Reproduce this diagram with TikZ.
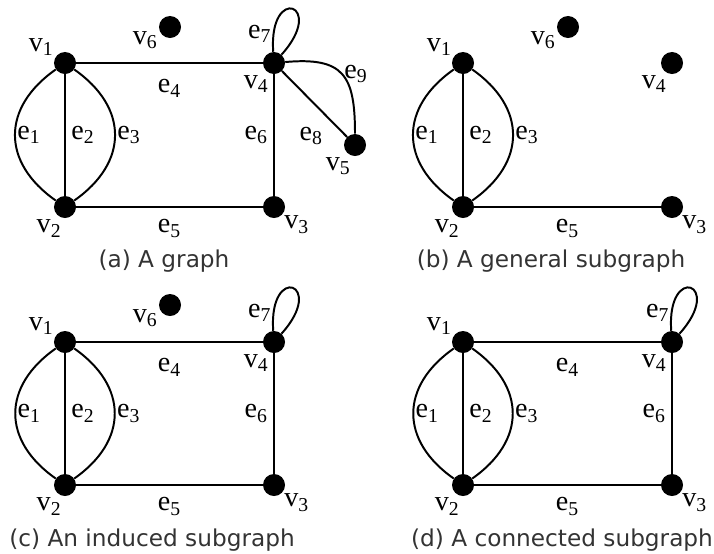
\documentclass[tikz,border=0pt]{standalone}
\usepackage{fontspec}
\setmainfont{Liberation Serif}
\newfontfamily\capfont{DejaVu Sans}
\usepackage{tikz}
\usetikzlibrary{positioning}

\begin{document}
\begin{tikzpicture}[
  x=0.025cm,y=-0.025cm,
  vtx/.style={circle,fill=black,minimum size=0.55cm,inner sep=0pt},
  lbl/.style={font=\fontsize{20}{20}\selectfont,inner sep=1pt},
  capt/.style={font=\capfont\fontsize{16.5}{18}\selectfont,text=black!80},
  edg/.style={line width=1.4pt},
  every label/.style={lbl},
]
\useasboundingbox (0,0) rectangle (714,553);

% (a) A graph
\node[vtx,label={150:v\textsubscript{1}}] (a1) at (65,63) {};
\node[vtx,label={260:v\textsubscript{2}}] (a2) at (65,207) {};
\node[vtx,label={320:v\textsubscript{3}}] (a3) at (274,207) {};
\node[vtx,label={250:v\textsubscript{4}}] (a4) at (274,63) {};
\node[vtx,label={255:v\textsubscript{5}}] (a5) at (355,145) {};
\node[vtx,label={195:v\textsubscript{6}}] (a6) at (170,27) {};
\draw[edg] (a1) to[out=215,in=145,looseness=1.3] node[lbl,right] {e\textsubscript{1}} (a2);
\draw[edg] (a1) -- node[lbl,right=1mm] {e\textsubscript{2}} (a2);
\draw[edg] (a1) to[out=-35,in=35,looseness=1.3] node[lbl,right] {e\textsubscript{3}} (a2);
\draw[edg] (a1) -- node[lbl,below=3.5mm] {e\textsubscript{4}} (a4);
\draw[edg] (a2) -- node[lbl,below=2.5mm] {e\textsubscript{5}} (a3);
\draw[edg] (a4) -- node[lbl,left=1mm] {e\textsubscript{6}} (a3);
\draw[edg] (a4) to[out=94,in=48,distance=1.7cm] node[lbl,pos=0.1,left] {e\textsubscript{7}} (a4);
\draw[edg] (a4) -- node[lbl,pos=0.45,below=6mm] {e\textsubscript{8}} (a5);
\draw[edg] (a4) to[out=5,in=90,looseness=1.5] node[lbl,pos=0.5,right] {e\textsubscript{9}} (a5);
\node[capt] (capa) at (164,261) {(a) A graph};

% (b) A general subgraph
\node[vtx,label={150:v\textsubscript{1}}] (b1) at (463,63) {};
\node[vtx,label={260:v\textsubscript{2}}] (b2) at (463,207) {};
\node[vtx,label={320:v\textsubscript{3}}] (b3) at (672,207) {};
\node[vtx,label={250:v\textsubscript{4}}] (b4) at (672,63) {};
\node[vtx,label={195:v\textsubscript{6}}] (b6) at (568,27) {};
\draw[edg] (b1) to[out=215,in=145,looseness=1.3] node[lbl,right] {e\textsubscript{1}} (b2);
\draw[edg] (b1) -- node[lbl,right=1mm] {e\textsubscript{2}} (b2);
\draw[edg] (b1) to[out=-35,in=35,looseness=1.3] node[lbl,right] {e\textsubscript{3}} (b2);
\draw[edg] (b2) -- node[lbl,below=2.5mm] {e\textsubscript{5}} (b3);
\node[capt] (capb) at (551,261) {(b) A general subgraph};

% (c) An induced subgraph
\node[vtx,label={150:v\textsubscript{1}}] (c1) at (65,342) {};
\node[vtx,label={260:v\textsubscript{2}}] (c2) at (65,485) {};
\node[vtx,label={320:v\textsubscript{3}}] (c3) at (274,485) {};
\node[vtx,label={250:v\textsubscript{4}}] (c4) at (274,342) {};
\node[vtx,label={195:v\textsubscript{6}}] (c6) at (170,305) {};
\draw[edg] (c1) to[out=215,in=145,looseness=1.3] node[lbl,right] {e\textsubscript{1}} (c2);
\draw[edg] (c1) -- node[lbl,right=1mm] {e\textsubscript{2}} (c2);
\draw[edg] (c1) to[out=-35,in=35,looseness=1.3] node[lbl,right] {e\textsubscript{3}} (c2);
\draw[edg] (c1) -- node[lbl,below=3.5mm] {e\textsubscript{4}} (c4);
\draw[edg] (c2) -- node[lbl,below=2.5mm] {e\textsubscript{5}} (c3);
\draw[edg] (c4) -- node[lbl,left=1mm] {e\textsubscript{6}} (c3);
\draw[edg] (c4) to[out=94,in=48,distance=1.7cm] node[lbl,pos=0.1,left] {e\textsubscript{7}} (c4);
\node[capt] (capc) at (152,540) {(c) An induced subgraph};

% (d) A connected subgraph
\node[vtx,label={150:v\textsubscript{1}}] (d1) at (463,342) {};
\node[vtx,label={260:v\textsubscript{2}}] (d2) at (463,485) {};
\node[vtx,label={320:v\textsubscript{3}}] (d3) at (672,485) {};
\node[vtx,label={250:v\textsubscript{4}}] (d4) at (672,342) {};
\draw[edg] (d1) to[out=215,in=145,looseness=1.3] node[lbl,right] {e\textsubscript{1}} (d2);
\draw[edg] (d1) -- node[lbl,right=1mm] {e\textsubscript{2}} (d2);
\draw[edg] (d1) to[out=-35,in=35,looseness=1.3] node[lbl,right] {e\textsubscript{3}} (d2);
\draw[edg] (d1) -- node[lbl,below=3.5mm] {e\textsubscript{4}} (d4);
\draw[edg] (d2) -- node[lbl,below=2.5mm] {e\textsubscript{5}} (d3);
\draw[edg] (d4) -- node[lbl,left=1mm] {e\textsubscript{6}} (d3);
\draw[edg] (d4) to[out=94,in=48,distance=1.7cm] node[lbl,pos=0.1,left] {e\textsubscript{7}} (d4);
\node[capt] (capd) at (562,540) {(d) A connected subgraph};
\end{tikzpicture}
\end{document}
